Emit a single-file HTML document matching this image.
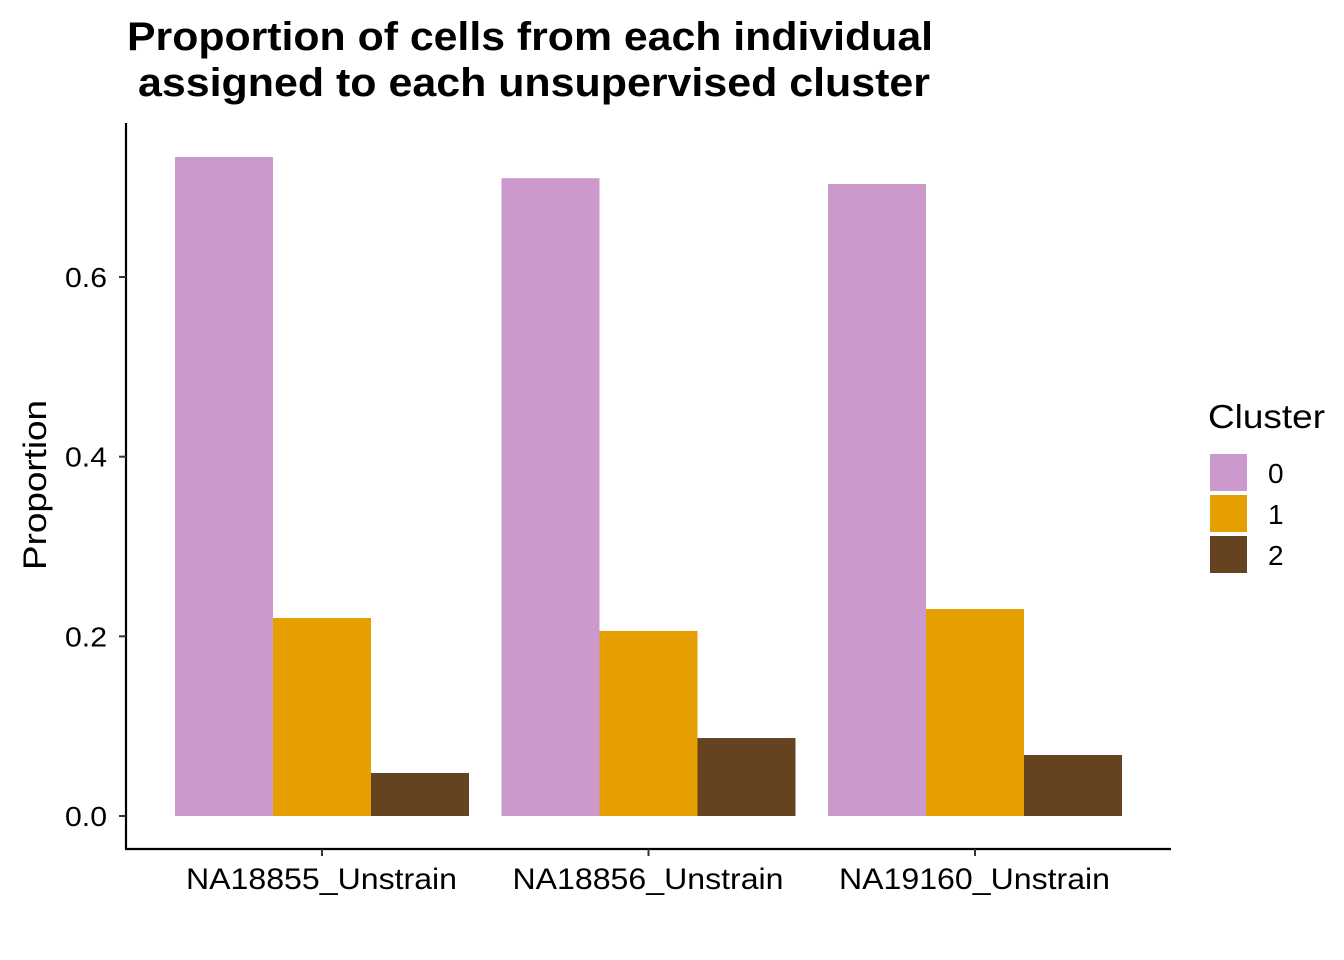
<!DOCTYPE html>
<html><head><meta charset="utf-8"><style>body{margin:0;background:#fff}svg{display:block;font-family:"Liberation Sans",Arial,sans-serif}</style></head>
<body>
<svg id="c" width="1344" height="960" viewBox="0 0 1344 960">
<text x="127" y="50" font-size="40" font-weight="bold" textLength="806" lengthAdjust="spacingAndGlyphs">Proportion of cells from each individual</text>
<text x="138" y="96" font-size="40" font-weight="bold" textLength="792" lengthAdjust="spacingAndGlyphs">assigned to each unsupervised cluster</text>
<g id="bars"></g>
<g id="axes"></g>
<text transform="translate(46,570) rotate(-90)" font-size="32" textLength="170" lengthAdjust="spacingAndGlyphs">Proportion</text>
<g id="legend"></g>
</svg>
<script>
const categories=["NA18855_Unstrain","NA18856_Unstrain","NA19160_Unstrain"];
const clusters=["0","1","2"];
const cluster0=[0.7336,0.710,0.7035];
const cluster1=[0.2204,0.206,0.2304];
const cluster2=[0.0479,0.0868,0.0679];
const yTicks=[0.0,0.2,0.4,0.6];
const yTickLabels=["0.0","0.2","0.4","0.6"];
const colors=["#CC99CC","#E69F00","#654321"];
const series=[cluster0,cluster1,cluster2];
const ns="http://www.w3.org/2000/svg";
const y=v=>816-v*898.3;
const x=i=>322+i*326.5;
const bw=98;
function mk(t,a,p){const e=document.createElementNS(ns,t);for(const k in a)e.setAttribute(k,a[k]);p.appendChild(e);return e;}
const bars=document.getElementById('bars');
series.forEach((s,j)=>s.forEach((v,i)=>{
 const r=mk('rect',{x:x(i)-1.5*bw+j*bw,y:y(v),width:bw,height:y(0)-y(v),fill:colors[j]},bars);
 
 
}));
const ax=document.getElementById('axes');
const yl=mk('line',{x1:126,y1:123,x2:126,y2:849,stroke:'#000','stroke-width':2.2},ax);


const xl=mk('line',{x1:125,y1:849,x2:1171,y2:849,stroke:'#000','stroke-width':2.2},ax);


yTicks.forEach((v,i)=>{
 mk('line',{x1:119,x2:126,y1:y(v),y2:y(v),stroke:'#333','stroke-width':2},ax);
 const t=mk('text',{x:65,y:y(v)+10,'font-size':28,fill:'#000',textLength:42,lengthAdjust:'spacingAndGlyphs'},ax);
 t.textContent=yTickLabels[i];
 
 
});
categories.forEach((c,i)=>{
 mk('line',{x1:x(i),x2:x(i),y1:849,y2:856,stroke:'#333','stroke-width':2},ax);
 const t=mk('text',{x:x(i)-136,y:889,'font-size':30,fill:'#000',textLength:271,lengthAdjust:'spacingAndGlyphs'},ax);
 t.textContent=c;
 
 
});
const lg=document.getElementById('legend');
const lt=mk('text',{x:1208,y:428,'font-size':33,textLength:117,lengthAdjust:'spacingAndGlyphs'},lg);
lt.textContent='Cluster';


clusters.forEach((c,j)=>{
 const r=mk('rect',{x:1210,y:454+j*41,width:37,height:37,fill:colors[j]},lg);
 
 
 const t=mk('text',{x:1268,y:483+j*41,'font-size':28},lg);
 t.textContent=c;
 
 
});
</script>
</body></html>
